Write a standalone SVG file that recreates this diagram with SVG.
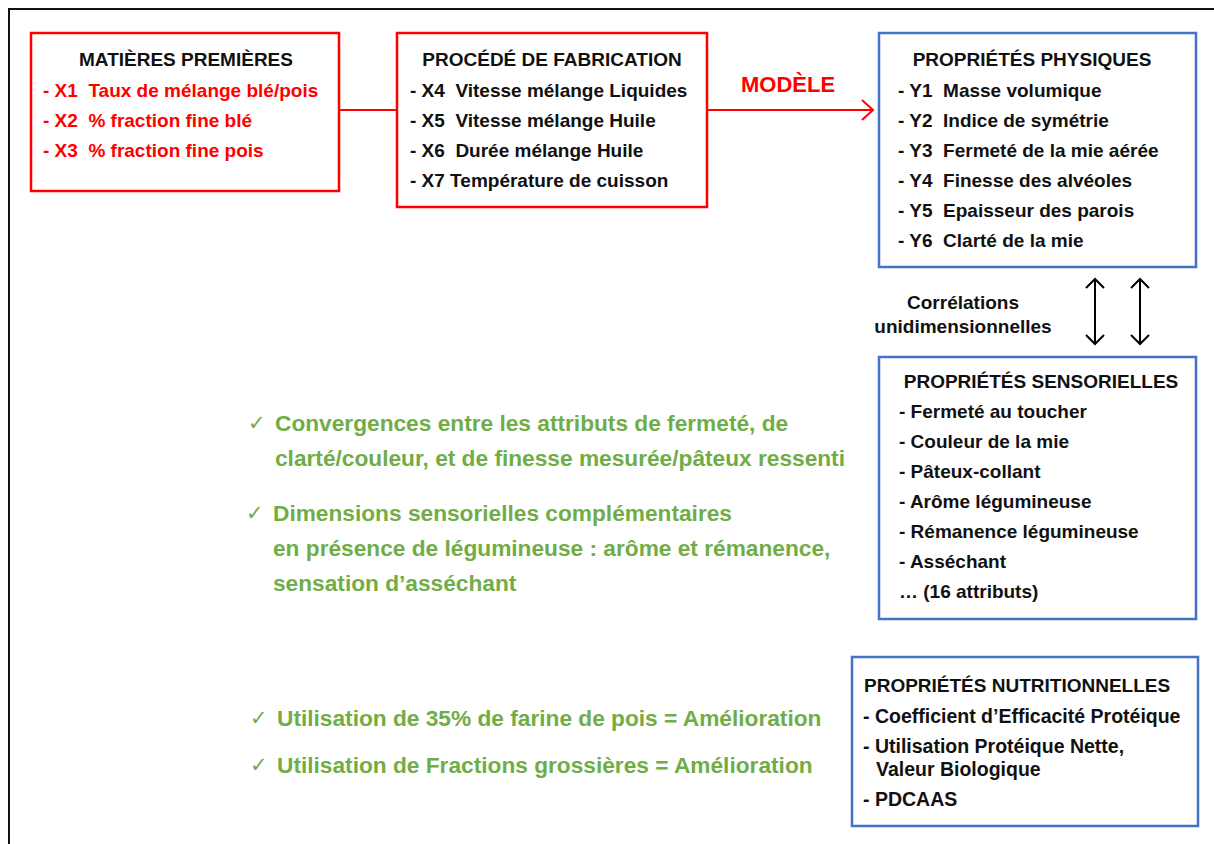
<svg xmlns="http://www.w3.org/2000/svg" width="1214" height="844" viewBox="0 0 1214 844">
<style>
text{font-family:"Liberation Sans",Arial,sans-serif;font-weight:bold;}
.bx{font-size:19px;fill:#111;}
.nu{font-size:19.5px;}
.red{fill:#FF0000;}
.ttl{text-anchor:middle;}
.g{font-size:22.7px;fill:#70AD47;}
.ck{font-family:"DejaVu Sans",sans-serif;font-weight:normal;font-size:21px;fill:#70AD47;}
.rbox{fill:#fff;stroke:#FF0000;stroke-width:2.5;}
.bbox{fill:#fff;stroke:#4472C4;stroke-width:2.5;}
.rl{stroke:#FF0000;stroke-width:2;fill:none;}
.kl{stroke:#000;stroke-width:2;fill:none;}
</style>
<rect width="1214" height="844" fill="#fff"/>
<path d="M9 844 V9 H1214" fill="none" stroke="#111" stroke-width="2"/>

<g id="connectors">
<line class="rl" x1="339" y1="110" x2="397" y2="110"/>
<line class="rl" x1="707" y1="110" x2="872" y2="110"/>
<path class="rl" d="M862 100 L873 110 L862 120"/>
<line class="kl" x1="1095" y1="279" x2="1095" y2="344"/>
<path class="kl" d="M1086 288 L1095 279 L1104 288 M1086 335 L1095 344 L1104 335"/>
<line class="kl" x1="1140" y1="279" x2="1140" y2="344"/>
<path class="kl" d="M1131 288 L1140 279 L1149 288 M1131 335 L1140 344 L1149 335"/>
<text x="788" y="92" font-size="22" fill="#FF0000" text-anchor="middle">MODÈLE</text>
<text class="bx" x="963" y="309" text-anchor="middle">Corrélations</text>
<text class="bx" x="963" y="333" text-anchor="middle">unidimensionnelles</text>
</g>

<g id="matieres">
<rect class="rbox" x="31" y="33" width="308" height="158"/>
<text class="bx ttl" x="186" y="66">MATIÈRES PREMIÈRES</text>
<text class="bx red" x="43" y="97" xml:space="preserve">- X1  Taux de mélange blé/pois</text>
<text class="bx red" x="43" y="127" xml:space="preserve">- X2  % fraction fine blé</text>
<text class="bx red" x="43" y="157" xml:space="preserve">- X3  % fraction fine pois</text>
</g>

<g id="procede">
<rect class="rbox" x="397" y="33" width="310" height="174"/>
<text class="bx ttl" x="552" y="66">PROCÉDÉ DE FABRICATION</text>
<text class="bx" x="410" y="97" xml:space="preserve">- X4  Vitesse mélange Liquides</text>
<text class="bx" x="410" y="127" xml:space="preserve">- X5  Vitesse mélange Huile</text>
<text class="bx" x="410" y="157" xml:space="preserve">- X6  Durée mélange Huile</text>
<text class="bx" x="410" y="187">- X7 Température de cuisson</text>
</g>

<g id="physiques">
<rect class="bbox" x="879" y="33" width="317" height="234"/>
<text class="bx ttl" x="1032" y="66">PROPRIÉTÉS PHYSIQUES</text>
<text class="bx" x="898" y="97" xml:space="preserve">- Y1  Masse volumique</text>
<text class="bx" x="898" y="127" xml:space="preserve">- Y2  Indice de symétrie</text>
<text class="bx" x="898" y="157" xml:space="preserve">- Y3  Fermeté de la mie aérée</text>
<text class="bx" x="898" y="187" xml:space="preserve">- Y4  Finesse des alvéoles</text>
<text class="bx" x="898" y="217" xml:space="preserve">- Y5  Epaisseur des parois</text>
<text class="bx" x="898" y="247" xml:space="preserve">- Y6  Clarté de la mie</text>
</g>

<g id="sensorielles">
<rect class="bbox" x="879" y="357" width="317" height="262"/>
<text class="bx ttl" x="1041" y="388">PROPRIÉTÉS SENSORIELLES</text>
<text class="bx" x="899" y="418">- Fermeté au toucher</text>
<text class="bx" x="899" y="448">- Couleur de la mie</text>
<text class="bx" x="899" y="478">- Pâteux-collant</text>
<text class="bx" x="899" y="508">- Arôme légumineuse</text>
<text class="bx" x="899" y="538">- Rémanence légumineuse</text>
<text class="bx" x="899" y="568">- Asséchant</text>
<text class="bx" x="899" y="598">… (16 attributs)</text>
</g>

<g id="nutritionnelles">
<rect class="bbox" x="852" y="657" width="346" height="169"/>
<text class="bx" x="864" y="692">PROPRIÉTÉS NUTRITIONNELLES</text>
<text class="bx nu" x="863" y="723">- Coefficient d’Efficacité Protéique</text>
<text class="bx nu" x="863" y="753">- Utilisation Protéique Nette,</text>
<text class="bx nu" x="876" y="776">Valeur Biologique</text>
<text class="bx nu" x="863" y="806">- PDCAAS</text>
</g>

<g id="conclusions">
<text class="ck" x="248" y="430">✓</text>
<text class="g" x="275" y="431">Convergences entre les attributs de fermeté, de</text>
<text class="g" x="275" y="466">clarté/couleur, et de finesse mesurée/pâteux ressenti</text>
<text class="ck" x="246" y="520">✓</text>
<text class="g" x="273" y="521">Dimensions sensorielles complémentaires</text>
<text class="g" x="273" y="556">en présence de légumineuse : arôme et rémanence,</text>
<text class="g" x="273" y="591">sensation d’asséchant</text>
<text class="ck" x="250" y="725">✓</text>
<text class="g" x="277" y="726">Utilisation de 35% de farine de pois = Amélioration</text>
<text class="ck" x="250" y="772">✓</text>
<text class="g" x="277" y="773">Utilisation de Fractions grossières = Amélioration</text>
</g>
</svg>
